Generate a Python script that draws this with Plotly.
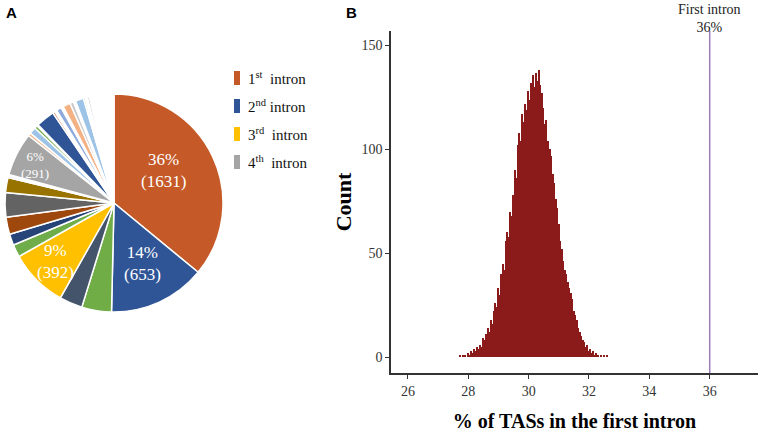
import plotly.graph_objects as go

# ---------------- Panel A data (pie) ----------------
pie_values = [1631, 653, 200, 155, 392, 85, 75, 115, 165, 100, 12, 10, 291,
              20, 45, 20, 10, 126, 15, 15, 35, 15, 50, 25, 15, 55, 12, 15, 15, 6, 8, 149]
pie_colors = ["#C55A28", "#2F5597", "#70AD47", "#44546A", "#FFC000", "#6FAD4A",
              "#264478", "#9E480E", "#636363", "#997300", "#7CAFDD", "#E7E6E6", "#A5A5A5",
              "#F4B183", "#9DC3E6", "#70AD47", "#FFFFFF", "#2F5597", "#C55A28", "#FFFFFF",
              "#8FAADC", "#FFFFFF", "#F4B183", "#C9C9C9", "#FFFFFF", "#9DC3E6", "#A9D18E",
              "#FFFFFF", "#C9C9C9", "#7F7F7F", "#A9D18E", "#FFFFFF"]
pie_labels = ["s%d" % i for i in range(len(pie_values))]
slice_pct_labels = ["36%", "14%", "9%", "6%"]
slice_count_labels = ["(1631)", "(653)", "(392)", "(291)"]

legend_labels = ["1<sup>st</sup>  intron", "2<sup>nd</sup> intron", "3<sup>rd</sup>  intron", "4<sup>th</sup>  intron"]
legend_colors = ["#C55A28", "#2F5597", "#FFC000", "#A5A5A5"]

# ---------------- Panel B data (histogram counts) ----------------
bin_centers = [27.75, 27.80, 27.85, 27.90, 27.95, 28.00, 28.05, 28.10, 28.15, 28.20,
               28.25, 28.30, 28.35, 28.40, 28.45, 28.50, 28.55, 28.60, 28.65, 28.70,
               28.75, 28.80, 28.85, 28.90, 28.95, 29.00, 29.05, 29.10, 29.15, 29.20,
               29.25, 29.30, 29.35, 29.40, 29.45, 29.50, 29.55, 29.60, 29.65, 29.70,
               29.75, 29.80, 29.85, 29.90, 29.95, 30.00, 30.05, 30.10, 30.15, 30.20,
               30.25, 30.30, 30.35, 30.40, 30.45, 30.50, 30.55, 30.60, 30.65, 30.70,
               30.75, 30.80, 30.85, 30.90, 30.95, 31.00, 31.05, 31.10, 31.15, 31.20,
               31.25, 31.30, 31.35, 31.40, 31.45, 31.50, 31.55, 31.60, 31.65, 31.70,
               31.75, 31.80, 31.85, 31.90, 31.95, 32.00, 32.05, 32.10, 32.15, 32.20,
               32.25, 32.30, 32.35, 32.40, 32.45, 32.50, 32.55, 32.60, 32.65]
bin_counts = [1, 0, 1, 1, 0, 2, 1, 3, 2, 4,
              3, 5, 4, 6, 5, 9, 8, 11, 14, 12,
              18, 16, 22, 26, 24, 33, 30, 40, 45, 42,
              56, 60, 58, 70, 68, 78, 90, 86, 102, 108,
              104, 117, 113, 122, 119, 128, 124, 132, 136, 130,
              137, 133, 138, 131, 127, 120, 112, 114, 104, 100,
              97, 88, 84, 76, 72, 64, 56, 52, 46, 42,
              40, 36, 33, 31, 28, 22, 20, 18, 14, 12,
              10, 8, 7, 5, 6, 3, 4, 2, 3, 1,
              2, 1, 0, 1, 0, 1, 0, 1, 0]
observed_pct = 36
observed_label = "First intron<br>36%"
x_ticks = [26, 28, 30, 32, 34, 36]
y_ticks = [0, 50, 100, 150]

SERIF = "Liberation Serif"
SANS = "Liberation Sans"
W, H = 760, 432

fig = go.Figure()

# Pie
cx, cy, r = 114, 203, 109
fig.add_trace(go.Pie(
    labels=pie_labels, values=pie_values,
    textinfo="none",
    marker=dict(colors=pie_colors, line=dict(color="white", width=1.5)),
    sort=False, direction="clockwise", rotation=0, showlegend=False,
    hoverinfo="none",
    domain=dict(x=[(cx - r) / W, (cx + r) / W], y=[(H - cy - r) / H, (H - cy + r) / H]),
))

# Histogram
fig.add_trace(go.Bar(
    x=bin_centers, y=bin_counts, width=0.05,
    marker=dict(color="#8B1A1A", line=dict(width=0)),
    showlegend=False, xaxis="x", yaxis="y",
))

x0, x1 = 391, 758
y_top, y_bot = 31, 373
fig.update_layout(
    width=W, height=H,
    margin=dict(l=0, r=0, t=0, b=0),
    paper_bgcolor="white", plot_bgcolor="white",
    bargap=0,
    xaxis=dict(domain=[x0 / W, x1 / W], range=[25.44, 37.6], tickvals=x_ticks, automargin=False,
               ticks="outside", ticklen=4, tickcolor="#333", showline=True, linecolor="#333",
               linewidth=1.5, showgrid=False, zeroline=False,
               tickfont=dict(family=SERIF, size=14, color="#333"),
               title=dict(text="<b>% of TASs in the first intron</b>", standoff=16,
                          font=dict(family=SERIF, size=20, color="black"))),
    yaxis=dict(domain=[1 - y_bot / H, 1 - y_top / H], range=[-7.7, 157], tickvals=y_ticks, automargin=False,
               ticks="outside", ticklen=4, tickcolor="#333", showline=True, linecolor="#333",
               linewidth=1.5, showgrid=False, zeroline=False,
               tickfont=dict(family=SERIF, size=14, color="#333"),
               title=dict(text="<b>Count</b>", standoff=4,
                          font=dict(family=SERIF, size=22, color="black"))),
)

# Observed value line
fig.add_shape(type="line", xref="x", yref="y domain", x0=observed_pct, x1=observed_pct,
              y0=0, y1=1, line=dict(color="#9B7DBA", width=1.5))
fig.add_annotation(x=observed_pct, xref="x", y=1, yref="paper", yanchor="top",
                   text=observed_label, showarrow=False,
                   font=dict(family=SERIF, size=14, color="#222"))

# Slice labels (percent + count) inside pie
label_pos = [(163, 171, 17), (142, 263, 17), (56, 261, 17), (35, 165, 13)]
for (px, py, fs), p, c in zip(label_pos, slice_pct_labels, slice_count_labels):
    fig.add_annotation(x=px / W, y=1 - py / H, xref="paper", yref="paper",
                       xanchor="center", yanchor="middle", text=p + "<br>" + c, showarrow=False,
                       font=dict(family=SERIF, size=fs, color="white"))

# Manual legend for panel A
for i, (lab, col) in enumerate(zip(legend_labels, legend_colors)):
    yc = 78 + i * 28
    fig.add_shape(type="rect", xref="paper", yref="paper",
                  x0=234 / W, x1=240 / W, y0=1 - (yc + 7) / H, y1=1 - (yc - 7) / H,
                  fillcolor=col, line=dict(width=0))
    fig.add_annotation(x=246 / W, y=1 - yc / H, xref="paper", yref="paper",
                       xanchor="left", yanchor="middle", text=lab, showarrow=False,
                       font=dict(family=SERIF, size=15, color="#111"))

# Panel letters
fig.add_annotation(x=4 / W, y=1 - 2 / H, xref="paper", yref="paper", xanchor="left", yanchor="top",
                   text="<b>A</b>", showarrow=False, font=dict(family=SANS, size=15, color="black"))
fig.add_annotation(x=344 / W, y=1 - 2 / H, xref="paper", yref="paper", xanchor="left", yanchor="top",
                   text="<b>B</b>", showarrow=False, font=dict(family=SANS, size=15, color="black"))

fig.write_html("out.html", config={"displayModeBar": False},
               post_script="document.body.style.margin='0px';")
